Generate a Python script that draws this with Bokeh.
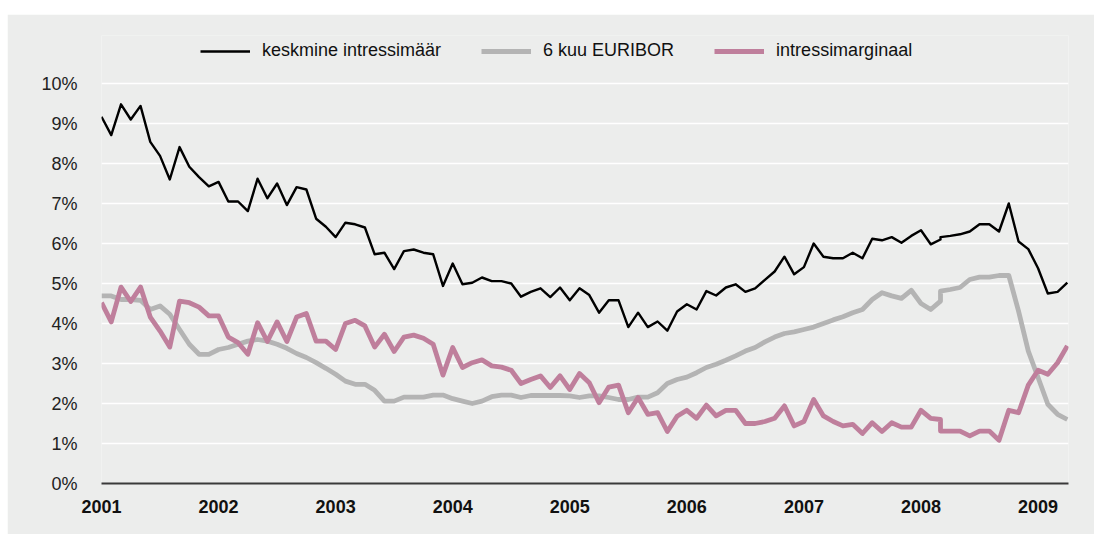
from bokeh.plotting import figure
from bokeh.models import ColumnDataSource, FixedTicker, Legend, LegendItem
from bokeh.embed import file_html
from bokeh.resources import INLINE

# month index from Jan 2001 (0) to Apr 2009 (99); index 86 appears twice (series break)
months = list(range(0, 87)) + list(range(86, 100))

keskmine = [9.17, 8.71, 9.48, 9.10, 9.44, 8.54, 8.19, 7.60, 8.41, 7.92,
            7.66, 7.43, 7.54, 7.05, 7.05, 6.81, 7.62, 7.13, 7.50, 6.96,
            7.41, 7.35, 6.62, 6.42, 6.16, 6.52, 6.48, 6.40, 5.73, 5.77,
            5.36, 5.81, 5.85, 5.77, 5.73, 4.94, 5.50, 4.98, 5.02, 5.15,
            5.06, 5.06, 5.00, 4.67, 4.79, 4.88, 4.66, 4.90, 4.58, 4.88,
            4.71, 4.27, 4.58, 4.58, 3.91, 4.27, 3.91, 4.05, 3.82, 4.30,
            4.48, 4.35, 4.81, 4.70, 4.90, 4.98, 4.79, 4.88, 5.09, 5.30,
            5.67, 5.23, 5.41, 6.00, 5.67, 5.63, 5.63, 5.77, 5.63, 6.12,
            6.08, 6.16, 6.02, 6.19, 6.33, 5.98, 6.10,
            6.16, 6.19, 6.23, 6.30, 6.48, 6.48, 6.30, 7.00, 6.05, 5.86, 5.38, 4.75, 4.79, 5.02]

euribor = [4.69, 4.69, 4.60, 4.60, 4.58, 4.35, 4.44, 4.23, 3.85, 3.48,
           3.23, 3.23, 3.35, 3.40, 3.48, 3.56, 3.60, 3.56, 3.48, 3.38,
           3.25, 3.15, 3.02, 2.88, 2.73, 2.56, 2.48, 2.48, 2.33, 2.06,
           2.06, 2.16, 2.16, 2.16, 2.21, 2.21, 2.12, 2.06, 2.00, 2.06,
           2.17, 2.21, 2.21, 2.15, 2.20, 2.20, 2.20, 2.20, 2.19, 2.15,
           2.19, 2.19, 2.15, 2.10, 2.10, 2.16, 2.16, 2.27, 2.50, 2.60,
           2.66, 2.77, 2.90, 2.98, 3.08, 3.19, 3.31, 3.40, 3.54, 3.66,
           3.75, 3.79, 3.85, 3.91, 4.00, 4.09, 4.17, 4.27, 4.35, 4.60,
           4.77, 4.69, 4.63, 4.83, 4.50, 4.35, 4.56,
           4.81, 4.85, 4.90, 5.10, 5.16, 5.16, 5.20, 5.20, 4.31, 3.31, 2.65, 1.98, 1.73, 1.60]

marginaal = [4.52, 4.04, 4.91, 4.55, 4.91, 4.16, 3.81, 3.41, 4.56, 4.52,
             4.41, 4.19, 4.19, 3.66, 3.52, 3.23, 4.02, 3.55, 4.04, 3.55,
             4.16, 4.25, 3.56, 3.56, 3.35, 4.00, 4.08, 3.94, 3.41, 3.73,
             3.30, 3.66, 3.71, 3.63, 3.48, 2.71, 3.40, 2.90, 3.02, 3.09,
             2.94, 2.91, 2.83, 2.50, 2.60, 2.69, 2.40, 2.69, 2.35, 2.75,
             2.52, 2.02, 2.41, 2.46, 1.77, 2.15, 1.73, 1.77, 1.30, 1.68,
             1.83, 1.63, 1.96, 1.69, 1.83, 1.83, 1.50, 1.50, 1.55, 1.63,
             1.94, 1.44, 1.55, 2.10, 1.69, 1.55, 1.44, 1.48, 1.25, 1.52,
             1.30, 1.52, 1.41, 1.41, 1.83, 1.63, 1.60,
             1.31, 1.31, 1.31, 1.19, 1.31, 1.31, 1.08, 1.83, 1.77, 2.46, 2.83, 2.73, 3.02, 3.44]

years = [2001, 2002, 2003, 2004, 2005, 2006, 2007, 2008, 2009]
y_ticks = [0, 1, 2, 3, 4, 5, 6, 7, 8, 9, 10]
series_names = ["keskmine intressimäär", "6 kuu EURIBOR", "intressimarginaal"]

BG = "#ecedec"
FONT = "Liberation Sans"

src = ColumnDataSource(dict(
    x=[2001 + m / 12.0 for m in months],
    k=keskmine, e=euribor, m=marginaal,
))

# frame extends invisibly above 10% so the legend can sit inside it
p = figure(width=1087, height=520, output_backend="svg", toolbar_location=None,
           x_range=(2001.0, 2009.26), y_range=(0, 11.2),
           background_fill_color=BG, border_fill_color=BG, outline_line_color=None,
           min_border_left=94, min_border_right=26, min_border_top=21, min_border_bottom=51)
p.margin = (14, 0, 0, 7)

r_e = p.line("x", "e", source=src, line_color="#b4b4b4", line_width=4.8, line_join="round")
r_m = p.line("x", "m", source=src, line_color="#bf7f9c", line_width=4.8, line_join="round")
r_k = p.line("x", "k", source=src, line_color="#000000", line_width=2.4, line_join="round")

p.xgrid.grid_line_color = None
p.ygrid.grid_line_color = "#ffffff"
p.ygrid.grid_line_width = 1.5
p.ygrid.ticker = FixedTicker(ticks=y_ticks[1:])

p.xaxis.ticker = FixedTicker(ticks=years)
p.xaxis.major_label_overrides = {y: str(y) for y in years}
p.xaxis.axis_line_color = "#3a3a3a"
p.xaxis.axis_line_width = 2
p.xaxis.major_tick_line_color = None
p.xaxis.minor_tick_line_color = None
p.xaxis.major_label_text_font = FONT
p.xaxis.major_label_text_font_style = "bold"
p.xaxis.major_label_text_font_size = "18px"
p.xaxis.major_label_text_color = "#111111"
p.xaxis.major_label_standoff = 10

p.yaxis.ticker = FixedTicker(ticks=y_ticks)
p.yaxis.major_label_overrides = {t: f"{t}%" for t in y_ticks}
p.yaxis.axis_line_color = None
p.yaxis.major_tick_line_color = None
p.yaxis.minor_tick_line_color = None
p.yaxis.major_label_text_font = FONT
p.yaxis.major_label_text_font_size = "18px"
p.yaxis.major_label_text_color = "#222222"
p.yaxis.major_label_standoff = 18

legend = Legend(items=[LegendItem(label=series_names[0], renderers=[r_k]),
                       LegendItem(label=series_names[1], renderers=[r_e]),
                       LegendItem(label=series_names[2], renderers=[r_m])],
                orientation="horizontal", location=(99, 422),
                background_fill_alpha=0, border_line_color=None,
                glyph_width=50, glyph_height=20, label_height=20,
                label_standoff=12, spacing=40, padding=0, margin=0,
                label_text_font=FONT, label_text_font_size="18px",
                label_text_color="#111111")
p.add_layout(legend, "center")

open("out.html", "w").write(file_html(p, INLINE))
